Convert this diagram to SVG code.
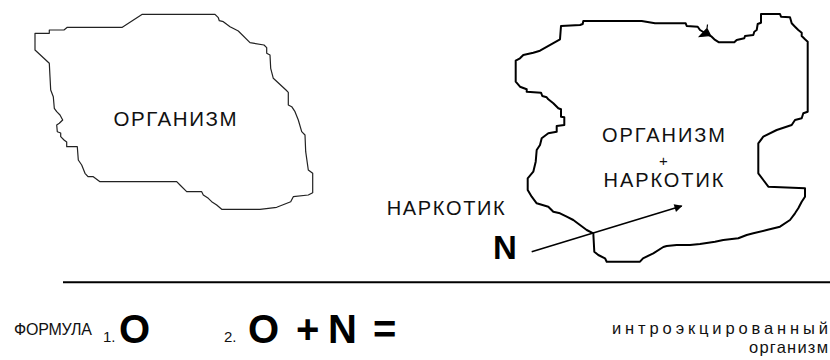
<svg xmlns="http://www.w3.org/2000/svg" width="830" height="360" viewBox="0 0 830 360">
  <style>
    .lbl { font-family: "Liberation Sans", Arial, sans-serif; fill: #111; }
    .big { font-family: "Liberation Sans", Arial, sans-serif; font-weight: bold; fill: #000; }
    .outline-a { fill: none; stroke: #222; stroke-width: 1.2; stroke-linejoin: round; }
    .outline-b { fill: none; stroke: #000; stroke-width: 2; stroke-linejoin: round; }
  </style>
  <defs>
    <marker id="head" viewBox="0 0 10 10" refX="9" refY="5" markerWidth="10" markerHeight="8" markerUnits="userSpaceOnUse" orient="auto">
      <path d="M0,0 L10,5 L0,10 Z" fill="#000"/>
    </marker>
  </defs>

  <!-- organism alone -->
  <g id="organism">
    <polygon class="outline-a" points="35,33.3 49.3,33.3 49.3,30 64,30 67.3,27.3 122.3,27.3 142.3,14.3 215,14.3 218.3,17.7 219.3,20.7 223.3,21.7 226.7,24.3 230,26.7 233,28.3 238.3,31 250,42.7 264,45 266.7,47.7 266.7,53.3 270,55 270.7,68.3 273.3,78.3 286,90 288.3,92.3 288.3,105 291.7,106.7 295,111.7 298.3,120 301.7,131.7 305,135 305.7,151.7 308.3,170 312.7,173.3 312.7,192.7 308.3,195 293.3,196.7 290.7,201.7 285,204 276.7,207.3 260,209.3 221.7,209.3 216.7,205 211.7,201.7 208.3,198.3 203.3,195 201.7,191.7 186.7,191.7 180,185 176.7,181.7 100,181.7 93.3,176.7 88,176.7 85,173.3 81.7,165 78.3,160 77.3,146.7 66.7,146.7 66.7,142 64,140 60.7,136.7 60.7,133 57.3,131.7 56.7,125 59.3,123.3 62.7,120 60,115 56.7,111.7 54.3,108.3 53.3,96.7 50.7,90 50,76.7 49.3,63.3 35,50"/>
    <text class="lbl" x="175" y="126" font-size="20.5" text-anchor="middle" textLength="123" lengthAdjust="spacing">ОРГАНИЗМ</text>
  </g>

  <!-- organism with narcotic -->
  <g id="organism-narcotic">
    <polygon class="outline-b" points="583.3,21 641.7,21 655,23.3 685.7,23.3 686.7,26 697.7,26.7 700,30 705,33 711.7,36.7 714.3,39.3 719,42.3 734.3,42.3 736.7,40 744.3,38.3 745,36 753.3,35 754.3,31.7 756.7,30 757.7,24 761,22.7 761,14 780,14 781,16.7 790,17.3 791.7,23.3 795,26.7 798.3,30 801.7,32.7 801.7,36 805,39.3 807.7,41.7 807.7,111.7 803.3,113.3 801.7,118.3 795,120 791.7,125 776.7,130 763.3,136.7 758.3,143.3 758.3,173.3 763.3,180 768.3,186.7 805,188.3 805,196.7 801.7,201.7 798.3,208.3 795,213.3 790,220 780,226.7 766.7,230 753.3,233.3 746.7,235 738.3,238.3 723.3,240 715,241.7 700,244 690,245 676.7,245 666.7,246 663.3,247 653.3,253.3 643,258.3 640,261.7 606.7,261.7 605,258.3 598.3,255 594.3,251.7 593.3,233.3 586.7,230 580,225 573.3,220 566.7,216.7 560,213.3 553.3,211.7 548.3,206.7 536.7,203.3 531.7,196.7 527.7,190 527.7,178.3 533.3,171.7 535.7,161.7 536.7,150 540,145 541.7,138.3 548.3,133.3 556.7,131.7 556.7,126 564.3,125 564.3,117.3 561,116.7 561,109.3 558.3,108.3 553.3,103.3 548.3,99.3 546.7,97.3 542.3,96 541,92.7 526.7,91.7 526.7,89.3 520,86.7 515.7,81.7 515.7,60.7 520,58.3 523.3,55 533.3,52.7 540,50.7 560,39.3 561,26 580,25 582.7,24"/>
    <path d="M699.5,36.5 L707,28.5 L710.5,35.5 Z M707,28.5 L707.5,24.5" fill="#000" stroke="#000" stroke-width="1.2"/>
    <text class="lbl" x="663.5" y="141.5" font-size="20" text-anchor="middle" textLength="123" lengthAdjust="spacing">ОРГАНИЗМ</text>
    <text class="lbl" x="663.5" y="165.5" font-size="15" text-anchor="middle">+</text>
    <text class="lbl" x="663.5" y="187" font-size="20" text-anchor="middle" textLength="120" lengthAdjust="spacing">НАРКОТИК</text>
  </g>

  <!-- narcotic -->
  <g id="narcotic">
    <text class="lbl" x="386.7" y="215" font-size="20" textLength="118" lengthAdjust="spacing">НАРКОТИК</text>
    <text class="big" x="493" y="259.3" font-size="33">N</text>
  </g>

  <!-- connectors -->
  <g id="connectors">
    <line x1="531.7" y1="251.7" x2="681.7" y2="206" stroke="#000" stroke-width="1.6" marker-end="url(#head)"/>
    <line x1="63" y1="282.3" x2="830" y2="282.3" stroke="#000" stroke-width="2"/>
  </g>

  <!-- formula row -->
  <g id="formula">
    <text class="lbl" x="14" y="335" font-size="16" textLength="78" lengthAdjust="spacing">ФОРМУЛА</text>
    <text class="lbl" x="103" y="342" font-size="15">1.</text>
    <text class="big" x="119" y="343" font-size="40">O</text>
    <text class="lbl" x="224" y="342" font-size="15">2.</text>
    <text class="big" x="248" y="343" font-size="40">O</text>
    <text class="big" x="296" y="343" font-size="40">+</text>
    <text class="big" x="328" y="343" font-size="40">N</text>
    <text class="big" x="373" y="343" font-size="40">=</text>
    <text class="lbl" x="828" y="334" font-size="16.5" text-anchor="end" textLength="216" lengthAdjust="spacing">интроэкцированный</text>
    <text class="lbl" x="828" y="352.5" font-size="16.5" text-anchor="end" textLength="79" lengthAdjust="spacing">организм</text>
  </g>
</svg>
